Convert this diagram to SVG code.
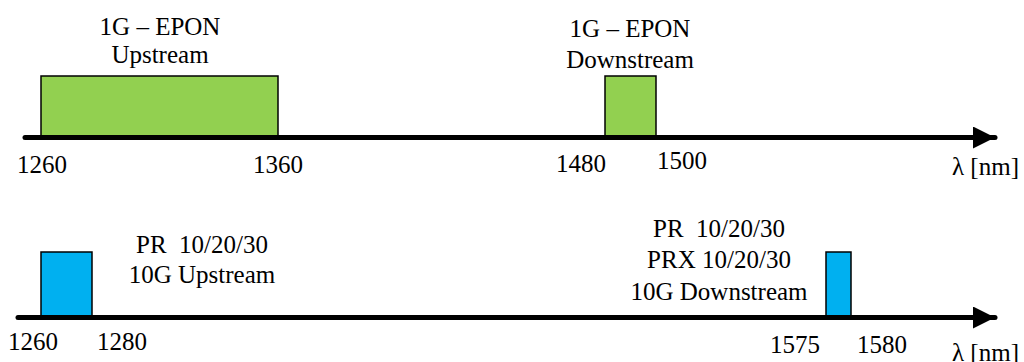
<svg xmlns="http://www.w3.org/2000/svg" width="1024" height="362" viewBox="0 0 1024 362" font-family="'Liberation Serif', 'Times New Roman', serif" font-size="25">
  <style>
    text { font-family: 'Liberation Serif', 'Times New Roman', serif; font-size: 25px; fill: #000; }
    .mid { text-anchor: middle; }
    .axis { stroke: #000; stroke-width: 5; stroke-linecap: round; fill: none; }
    .g { fill: #92d050; stroke: #000; stroke-width: 1.5; }
    .b { fill: #00b0f0; stroke: #000; stroke-width: 1.5; }
  </style>
  <defs>
    <marker id="arrow" markerUnits="userSpaceOnUse" markerWidth="24" markerHeight="22" refX="22" refY="11" orient="auto">
      <path d="M0,0 L22,11 L0,22 Z" fill="#000"/>
    </marker>
  </defs>

  <!-- 1G-EPON bands (top axis) -->
  <g id="epon-up">
    <rect class="g" x="41" y="76" width="237" height="61"/>
    <text class="mid" x="160" y="35">1G – EPON</text>
    <text class="mid" x="160" y="63">Upstream</text>
  </g>
  <g id="epon-down">
    <rect class="g" x="605" y="76" width="51" height="61"/>
    <text class="mid" x="630" y="37">1G – EPON</text>
    <text class="mid" x="630" y="68">Downstream</text>
  </g>

  <!-- 10G bands (bottom axis) -->
  <g id="tenG-up">
    <rect class="b" x="41" y="252" width="51" height="65"/>
    <text class="mid" x="202" y="253" xml:space="preserve">PR  10/20/30</text>
    <text class="mid" x="202" y="283">10G Upstream</text>
  </g>
  <g id="tenG-down">
    <rect class="b" x="826" y="252" width="25" height="65"/>
    <text class="mid" x="719" y="237" xml:space="preserve">PR  10/20/30</text>
    <text class="mid" x="719" y="268">PRX 10/20/30</text>
    <text class="mid" x="719" y="300">10G Downstream</text>
  </g>

  <!-- wavelength axes -->
  <g id="connectors">
    <line class="axis" x1="25" y1="137.5" x2="995" y2="137.5" marker-end="url(#arrow)"/>
    <line class="axis" x1="18" y1="317.5" x2="995" y2="317.5" marker-end="url(#arrow)"/>
  </g>

  <!-- tick labels -->
  <g id="labels-top">
    <text x="17" y="173">1260</text>
    <text x="253" y="173">1360</text>
    <text x="556" y="172">1480</text>
    <text x="657" y="169">1500</text>
    <text x="952" y="175">λ [nm]</text>
  </g>
  <g id="labels-bottom">
    <text x="8" y="350">1260</text>
    <text x="97" y="350">1280</text>
    <text x="770" y="353">1575</text>
    <text x="857" y="353">1580</text>
    <text x="952" y="361">λ [nm]</text>
  </g>
</svg>
